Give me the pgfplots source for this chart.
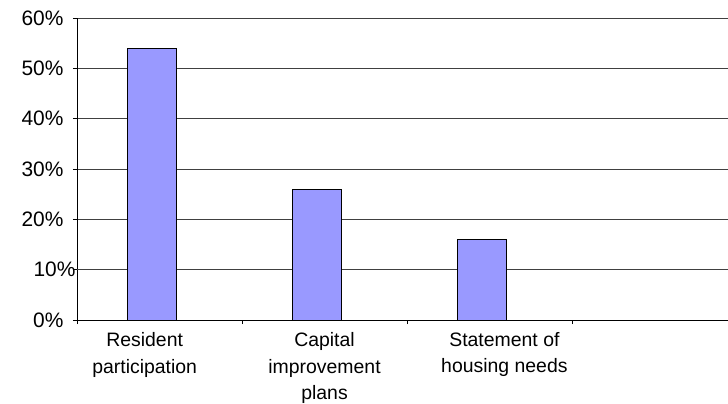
\documentclass[border=0pt]{standalone}
\usepackage{pgfplots}
\pgfplotsset{compat=1.18}
\usepackage{fontspec}
\setmainfont{Liberation Sans}
\begin{document}
\begin{tikzpicture}
\useasboundingbox (-77bp,-84bp) rectangle (651bp,320bp);
\begin{axis}[
    at={(0,0)}, anchor=south west,
    scale only axis,
    width=651bp, height=302bp,
    ybar,
    bar width=0.297,
    bar shift=-0.0485,
    xmin=-0.5, xmax=3.445,
    ymin=0, ymax=60,
    axis lines=left,
    axis line style={black, line width=1pt, -},
    ytick={0,20,30,40,50,60},
    yticklabel={\pgfmathprintnumber{\tick}\%},
    extra y ticks={10},
    extra y tick labels={10\%},
    extra y tick style={ymajorgrids, yticklabel style={xshift=12bp}},
    ymajorgrids,
    major grid style={black!75, line width=0.8pt},
    tick align=outside,
    major tick length=4bp,
    tick style={black, line width=0.8pt},
    xtick={-0.5,0.5,1.5,2.5},
    xticklabels={},
    extra x ticks={-0.09,1.0,2.09},
    extra x tick labels={Resident\\participation, Capital\\improvement\\plans, Statement of\\housing needs},
    extra x tick style={major tick length=0pt, xmajorgrids=false},
    xticklabel style={align=center, font=\fontsize{19.5}{26.5}\selectfont, yshift=-9bp},
    yticklabel style={font=\fontsize{21}{24}\selectfont, xshift=-6bp},
    /pgf/number format/assume math mode=true,
    clip=false,
]
\addplot[fill={rgb,255:red,153;green,153;blue,255}, draw=black, line width=0.8pt]
    coordinates {(0,54) (1,26) (2,16)};
\end{axis}
\end{tikzpicture}
\end{document}
